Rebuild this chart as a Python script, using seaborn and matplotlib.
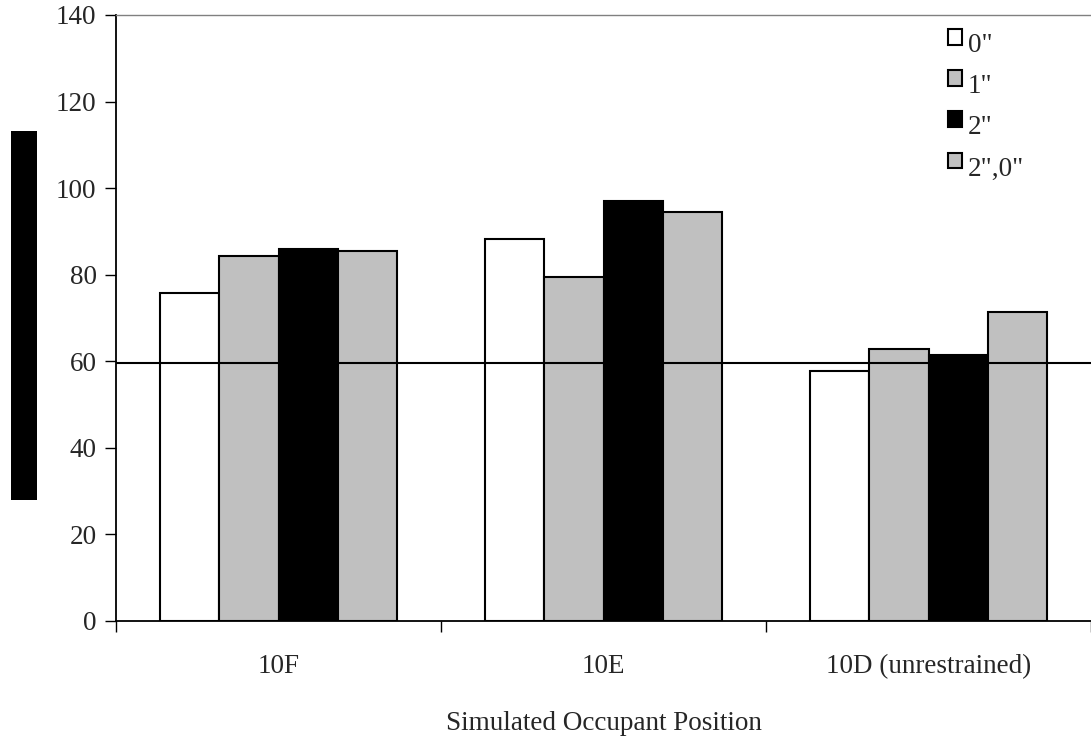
import matplotlib
matplotlib.use("Agg")
import matplotlib.pyplot as plt
from matplotlib.patches import Rectangle
from matplotlib.legend_handler import HandlerPatch
from matplotlib.ticker import FixedLocator
import seaborn as sns
import pandas as pd

# Measured values per occupant position and offset condition
positions = ["10F", "10E", "10D (unrestrained)"]
offsets = ['0"', '1"', '2"', '2",0"']
values_0in = [75.7, 88.2, 57.8]
values_1in = [84.4, 79.4, 62.8]
values_2in = [85.9, 97.0, 61.4]
values_2in_0in = [85.5, 94.6, 71.5]
reference_level = 59.7
y_ticks = [0, 20, 40, 60, 80, 100, 120, 140]

series = [values_0in, values_1in, values_2in, values_2in_0in]
rows = []
for off, vals in zip(offsets, series):
    for pos, v in zip(positions, vals):
        rows.append({"position": pos, "offset": off, "value": v})
df = pd.DataFrame(rows)

FS = 19.5

sns.set_theme(style="white")
plt.rcParams["font.family"] = ["Liberation Serif", "DejaVu Serif"]
plt.rcParams["font.size"] = FS

fig = plt.figure(figsize=(10.91, 7.36), dpi=100)
ax = fig.add_axes([116 / 1091, 1 - 621 / 736, 975 / 1091, 606 / 736])

palette = ["#FFFFFF", "#C0C0C0", "#000000", "#C0C0C0"]
sns.barplot(data=df, x="position", y="value", hue="offset", order=positions,
            hue_order=offsets, palette=palette, width=0.73, gap=0,
            edgecolor="black", linewidth=1.5, saturation=1, ax=ax)

ax.axhline(reference_level, color="black", linewidth=1.5, zorder=5)

ax.set_ylim(0, 140)
ax.set_xlim(-0.5, 2.5)
ax.set_yticks(y_ticks)
ax.tick_params(axis="y", direction="out", length=8, width=1, color="black",
               left=True, labelsize=FS, pad=6)
ax.tick_params(axis="x", which="major", length=0, labelsize=FS, pad=24)
ax.xaxis.set_minor_locator(FixedLocator([-0.5, 0.5, 1.5, 2.5]))
ax.tick_params(axis="x", which="minor", direction="out", length=8, width=1,
               color="black", bottom=True)

ax.set_xlabel("Simulated Occupant Position", fontsize=FS, labelpad=23)
ax.set_ylabel("")

for side in ["left", "bottom"]:
    ax.spines[side].set_color("black")
    ax.spines[side].set_linewidth(1.3)
ax.spines["top"].set_color("#808080")
ax.spines["top"].set_linewidth(1)
ax.spines["right"].set_visible(False)
ax.grid(False)


def raised_square(legend, orig_handle, xdescent, ydescent, width, height, fontsize):
    # small square key sitting slightly above the label's centre line
    return Rectangle((-xdescent, -ydescent + 4.0), width, height)


handles, labels = ax.get_legend_handles_labels()
ax.legend(handles, labels, loc="upper left",
          bbox_to_anchor=(948 / 1091, 1 - 33 / 736),
          bbox_transform=fig.transFigure, frameon=False, fontsize=FS,
          handlelength=0.52, handleheight=0.52, handletextpad=0.22,
          labelspacing=0.6, borderaxespad=0, borderpad=0,
          handler_map={Rectangle: HandlerPatch(patch_func=raised_square)})

# Solid vertical bar at the left margin
fig.patches.append(Rectangle((11 / 1091, 1 - 500 / 736), 26 / 1091, 369 / 736,
                             transform=fig.transFigure, facecolor="black",
                             edgecolor="none"))

fig.savefig("out.png", dpi=100)
